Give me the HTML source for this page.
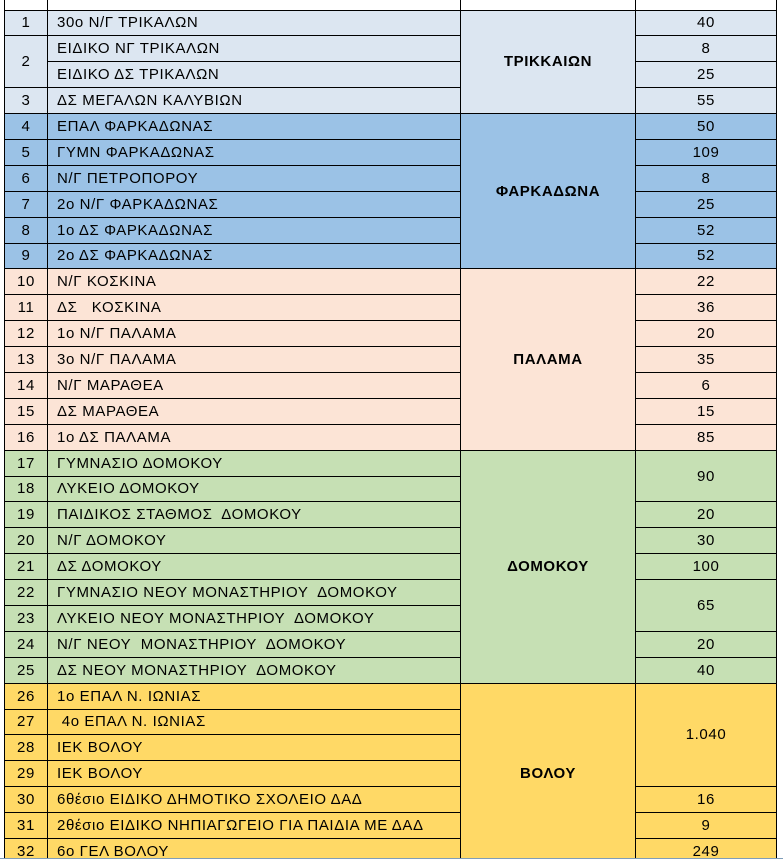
<!DOCTYPE html>
<html><head><meta charset="utf-8">
<style>
html,body{margin:0;padding:0;background:#fff;}
#wrap{position:relative;width:783px;height:859px;overflow:hidden;}
table{position:absolute;left:4px;top:-16.4px;border-collapse:collapse;table-layout:fixed;font-family:"Liberation Sans","DejaVu Sans",sans-serif;font-size:15px;color:#000;letter-spacing:0.6px;}
td{border:1px solid #000;padding:1px 0 0 0;height:23.9px;line-height:16px;white-space:nowrap;overflow:hidden;}
td.n{text-align:center;}
td.t{padding-left:9px;}
td.g{text-align:center;font-weight:bold;}
td.v{text-align:center;}
.a td{background:#dce6f1}
.b td{background:#9bc2e6}
.c td{background:#fce4d6}
.d td{background:#c6e0b4}
.e td{background:#ffd966}
.h td{background:#fff}
</style></head><body>
<div id="wrap">
<table>
<colgroup><col style="width:43px"><col style="width:413px"><col style="width:175px"><col style="width:141px"></colgroup>
<tr class="h"><td></td><td></td><td></td><td></td></tr>
<tr class="a"><td class="n">1</td><td class="t">30ο Ν/Γ ΤΡΙΚΑΛΩΝ</td><td class="g" rowspan="4">ΤΡΙΚΚΑΙΩΝ</td><td class="v">40</td></tr>
<tr class="a"><td class="n" rowspan="2">2</td><td class="t">ΕΙΔΙΚΟ ΝΓ ΤΡΙΚΑΛΩΝ</td><td class="v">8</td></tr>
<tr class="a"><td class="t">ΕΙΔΙΚΟ ΔΣ ΤΡΙΚΑΛΩΝ</td><td class="v">25</td></tr>
<tr class="a"><td class="n">3</td><td class="t">ΔΣ ΜΕΓΑΛΩΝ ΚΑΛΥΒΙΩΝ</td><td class="v">55</td></tr>
<tr class="b"><td class="n">4</td><td class="t">ΕΠΑΛ ΦΑΡΚΑΔΩΝΑΣ</td><td class="g" rowspan="6">ΦΑΡΚΑΔΩΝΑ</td><td class="v">50</td></tr>
<tr class="b"><td class="n">5</td><td class="t">ΓΥΜΝ ΦΑΡΚΑΔΩΝΑΣ</td><td class="v">109</td></tr>
<tr class="b"><td class="n">6</td><td class="t">Ν/Γ ΠΕΤΡΟΠΟΡΟΥ</td><td class="v">8</td></tr>
<tr class="b"><td class="n">7</td><td class="t">2ο Ν/Γ ΦΑΡΚΑΔΩΝΑΣ</td><td class="v">25</td></tr>
<tr class="b"><td class="n">8</td><td class="t">1ο ΔΣ ΦΑΡΚΑΔΩΝΑΣ</td><td class="v">52</td></tr>
<tr class="b"><td class="n">9</td><td class="t">2ο ΔΣ ΦΑΡΚΑΔΩΝΑΣ</td><td class="v">52</td></tr>
<tr class="c"><td class="n">10</td><td class="t">Ν/Γ ΚΟΣΚΙΝΑ</td><td class="g" rowspan="7">ΠΑΛΑΜΑ</td><td class="v">22</td></tr>
<tr class="c"><td class="n">11</td><td class="t">ΔΣ&nbsp;&nbsp; ΚΟΣΚΙΝΑ</td><td class="v">36</td></tr>
<tr class="c"><td class="n">12</td><td class="t">1ο Ν/Γ ΠΑΛΑΜΑ</td><td class="v">20</td></tr>
<tr class="c"><td class="n">13</td><td class="t">3ο Ν/Γ ΠΑΛΑΜΑ</td><td class="v">35</td></tr>
<tr class="c"><td class="n">14</td><td class="t">Ν/Γ ΜΑΡΑΘΕΑ</td><td class="v">6</td></tr>
<tr class="c"><td class="n">15</td><td class="t">ΔΣ ΜΑΡΑΘΕΑ</td><td class="v">15</td></tr>
<tr class="c"><td class="n">16</td><td class="t">1ο ΔΣ ΠΑΛΑΜΑ</td><td class="v">85</td></tr>
<tr class="d"><td class="n">17</td><td class="t">ΓΥΜΝΑΣΙΟ ΔΟΜΟΚΟΥ</td><td class="g" rowspan="9">ΔΟΜΟΚΟΥ</td><td class="v" rowspan="2">90</td></tr>
<tr class="d"><td class="n">18</td><td class="t">ΛΥΚΕΙΟ ΔΟΜΟΚΟΥ</td></tr>
<tr class="d"><td class="n">19</td><td class="t">ΠΑΙΔΙΚΟΣ ΣΤΑΘΜΟΣ&nbsp; ΔΟΜΟΚΟΥ</td><td class="v">20</td></tr>
<tr class="d"><td class="n">20</td><td class="t">Ν/Γ ΔΟΜΟΚΟΥ</td><td class="v">30</td></tr>
<tr class="d"><td class="n">21</td><td class="t">ΔΣ ΔΟΜΟΚΟΥ</td><td class="v">100</td></tr>
<tr class="d"><td class="n">22</td><td class="t">ΓΥΜΝΑΣΙΟ ΝΕΟΥ ΜΟΝΑΣΤΗΡΙΟΥ&nbsp; ΔΟΜΟΚΟΥ</td><td class="v" rowspan="2">65</td></tr>
<tr class="d"><td class="n">23</td><td class="t">ΛΥΚΕΙΟ ΝΕΟΥ ΜΟΝΑΣΤΗΡΙΟΥ&nbsp; ΔΟΜΟΚΟΥ</td></tr>
<tr class="d"><td class="n">24</td><td class="t">Ν/Γ ΝΕΟΥ&nbsp; ΜΟΝΑΣΤΗΡΙΟΥ&nbsp; ΔΟΜΟΚΟΥ</td><td class="v">20</td></tr>
<tr class="d"><td class="n">25</td><td class="t">ΔΣ ΝΕΟΥ ΜΟΝΑΣΤΗΡΙΟΥ&nbsp; ΔΟΜΟΚΟΥ</td><td class="v">40</td></tr>
<tr class="e"><td class="n">26</td><td class="t">1ο ΕΠΑΛ Ν. ΙΩΝΙΑΣ</td><td class="g" rowspan="7">ΒΟΛΟΥ</td><td class="v" rowspan="4">1.040</td></tr>
<tr class="e"><td class="n">27</td><td class="t">&nbsp;4ο ΕΠΑΛ Ν. ΙΩΝΙΑΣ</td></tr>
<tr class="e"><td class="n">28</td><td class="t">ΙΕΚ ΒΟΛΟΥ</td></tr>
<tr class="e"><td class="n">29</td><td class="t">ΙΕΚ ΒΟΛΟΥ</td></tr>
<tr class="e"><td class="n">30</td><td class="t">6θέσιο ΕΙΔΙΚΟ ΔΗΜΟΤΙΚΟ ΣΧΟΛΕΙΟ ΔΑΔ</td><td class="v">16</td></tr>
<tr class="e"><td class="n">31</td><td class="t">2θέσιο ΕΙΔΙΚΟ ΝΗΠΙΑΓΩΓΕΙΟ ΓΙΑ ΠΑΙΔΙΑ ΜΕ ΔΑΔ</td><td class="v">9</td></tr>
<tr class="e"><td class="n">32</td><td class="t">6ο ΓΕΛ ΒΟΛΟΥ</td><td class="v">249</td></tr>
</table>
</div>
<div style="position:absolute;left:0;top:858px;width:783px;height:1px;background:#7f9db9"></div>
</body></html>
